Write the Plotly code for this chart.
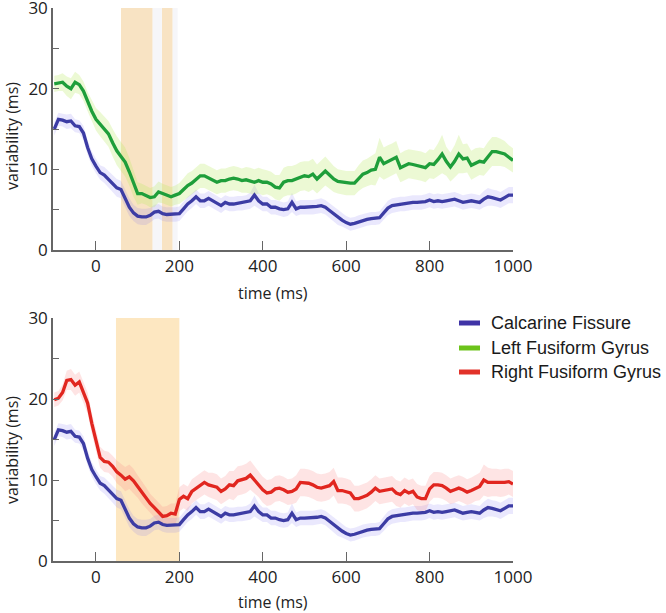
import plotly.graph_objects as go

# ---- data ----
time_ms = list(range(-100, 1001, 10))

calcarine = [15.0, 16.2, 16.1, 15.9, 16.0, 15.4, 15.3, 14.5, 12.7, 11.3,
             10.4, 9.6, 9.3, 8.8, 8.2, 7.7, 7.5, 6.4, 5.3, 4.6,
             4.2, 4.1, 4.1, 4.3, 4.7, 4.8, 4.5, 4.4, 4.4, 4.4,
             4.5, 5.1, 5.7, 6.1, 6.6, 6.1, 6.1, 6.4, 6.1, 5.7,
             5.5, 5.9, 5.7, 5.7, 5.8, 5.8, 5.9, 6.1, 6.8, 6.1,
             5.7, 5.7, 5.3, 5.3, 5.1, 5.0, 5.1, 5.9, 5.1, 5.3,
             5.3, 5.3, 5.3, 5.4, 5.5, 5.3, 4.9, 4.5, 4.0, 3.7,
             3.4, 3.2, 3.3, 3.5, 3.7, 3.8, 3.9, 3.9, 4.0, 4.6,
             5.2, 5.5, 5.6, 5.7, 5.7, 5.8, 5.9, 5.9, 5.9, 6.0,
             6.2, 6.0, 6.1, 6.0, 6.1, 6.2, 6.3, 6.1, 5.9, 6.0,
             6.1, 6.0, 5.9, 6.3, 6.6, 6.5, 6.4, 6.2, 6.5, 6.8, 6.8]
calcarine_err = [0.8, 0.8, 0.8, 0.9, 0.9, 0.8, 0.8, 0.9, 0.9, 0.9,
                 0.9, 0.9, 1.0, 1.0, 1.0, 1.1, 1.1, 1.1, 1.1, 1.0,
                 1.0, 1.0, 1.0, 0.9, 0.9, 0.9, 0.9, 0.9, 0.9, 0.9,
                 0.9, 0.9, 0.9, 0.9, 0.9, 0.9, 0.9, 0.9, 0.9, 0.9,
                 0.9, 0.9, 0.9, 0.9, 0.9, 0.9, 0.9, 1.0, 1.3, 1.0,
                 0.9, 0.9, 0.9, 0.9, 0.9, 0.9, 0.9, 1.2, 0.9, 0.9,
                 0.9, 0.9, 0.9, 0.9, 0.9, 0.9, 0.9, 0.9, 0.9, 0.8,
                 0.8, 0.8, 0.8, 0.8, 0.8, 0.8, 0.8, 0.8, 0.8, 0.9,
                 0.9, 0.9, 0.9, 0.9, 0.9, 0.9, 0.9, 0.9, 0.9, 0.9,
                 0.9, 0.9, 0.9, 0.9, 0.9, 0.9, 0.9, 0.9, 0.9, 0.9,
                 0.9, 0.9, 0.9, 1.0, 1.1, 1.0, 1.0, 1.0, 1.0, 1.0, 1.0]

left_fg = [20.6, 20.7, 20.8, 20.3, 20.0, 20.8, 20.5, 19.7, 18.4, 17.2,
           16.2, 15.6, 15.0, 14.4, 13.3, 12.3, 11.6, 10.9, 9.7, 8.2,
           7.0, 7.0, 6.8, 6.5, 6.6, 7.2, 7.0, 6.8, 6.6, 6.8,
           7.0, 7.5, 8.0, 8.3, 8.7, 9.2, 9.2, 8.9, 8.6, 8.4,
           8.6, 8.6, 8.8, 8.9, 8.8, 8.6, 8.7, 8.6, 8.4, 8.6,
           8.4, 8.4, 8.2, 7.8, 7.7, 8.4, 8.6, 8.6, 8.8, 9.1,
           9.2, 9.1, 9.4, 8.8, 9.3, 9.8, 9.3, 8.8, 8.5, 8.4,
           8.3, 8.3, 8.3, 8.9, 9.4, 9.6, 9.9, 10.0, 11.5, 10.7,
           11.0, 11.2, 11.5, 10.2, 10.5, 10.7, 10.6, 10.5, 10.4, 10.2,
           10.7, 10.6, 11.2, 11.9, 11.0, 10.3, 11.0, 11.9, 11.3, 11.4,
           10.5, 10.8, 11.0, 10.9, 11.6, 12.2, 12.2, 12.1, 11.9, 11.5, 11.1]
left_fg_err = [1.0, 1.0, 1.1, 1.2, 1.3, 1.3, 1.2, 1.2, 1.2, 1.3,
               1.4, 1.5, 1.5, 1.6, 1.7, 1.8, 1.8, 1.8, 1.7, 1.6,
               1.4, 1.2, 1.2, 1.2, 1.3, 1.3, 1.2, 1.2, 1.2, 1.2,
               1.3, 1.4, 1.5, 1.5, 1.5, 1.5, 1.5, 1.5, 1.5, 1.5,
               1.5, 1.5, 1.5, 1.5, 1.5, 1.5, 1.6, 1.6, 1.6, 1.6,
               1.6, 1.5, 1.5, 1.5, 1.6, 1.8, 1.8, 1.8, 1.8, 1.8,
               1.8, 1.9, 1.9, 1.8, 1.8, 1.8, 1.7, 1.6, 1.5, 1.5,
               1.5, 1.5, 1.5, 1.6, 1.7, 1.7, 1.8, 2.0, 2.4, 2.0,
               2.0, 2.0, 2.0, 1.8, 1.8, 1.8, 1.8, 1.8, 1.8, 1.8,
               1.8, 1.8, 2.0, 2.4, 1.8, 1.8, 2.0, 2.4, 1.8, 1.8,
               1.8, 1.8, 1.7, 1.7, 1.8, 1.8, 1.8, 1.7, 1.6, 1.5, 1.5]

right_fg = [19.9, 20.1, 20.8, 22.3, 22.4, 21.7, 22.1, 20.8, 19.5, 17.0,
            15.0, 12.8, 12.3, 12.2, 11.7, 11.0, 10.6, 10.1, 10.4, 9.9,
            9.2, 8.5, 7.8, 7.1, 6.6, 6.0, 5.5, 5.6, 5.9, 5.8,
            7.6, 8.0, 7.7, 8.6, 9.0, 9.4, 9.7, 9.4, 9.3, 9.1,
            8.6, 8.9, 9.4, 9.3, 9.9, 10.0, 10.2, 10.6, 10.0, 9.5,
            8.8, 8.4, 8.5, 8.9, 9.0, 8.8, 8.5, 8.6, 8.9, 9.7,
            9.7, 9.6, 9.4, 9.1, 9.0, 9.1, 9.3, 9.8, 8.7, 8.7,
            8.6, 8.4, 7.7, 7.7, 7.9, 8.1, 8.5, 9.0, 8.6, 8.7,
            8.8, 8.9, 8.4, 8.2, 8.7, 8.4, 8.6, 7.9, 7.7, 7.7,
            8.9, 9.4, 9.4, 9.3, 9.0, 8.6, 8.8, 9.0, 8.8, 8.5,
            8.7, 9.0, 9.2, 10.0, 9.7, 9.7, 9.7, 9.6, 9.7, 9.8, 9.5]
right_fg_err = [0.9, 0.9, 1.0, 1.2, 1.3, 1.3, 1.3, 1.3, 1.3, 1.3,
                1.3, 1.3, 1.3, 1.3, 1.3, 1.4, 1.4, 1.5, 1.5, 1.5,
                1.4, 1.4, 1.3, 1.2, 1.2, 1.2, 1.2, 1.2, 1.2, 1.3,
                1.5, 1.5, 1.5, 1.5, 1.5, 1.5, 1.5, 1.5, 1.6, 1.6,
                1.6, 1.6, 1.7, 1.8, 1.8, 1.8, 1.8, 1.8, 1.7, 1.6,
                1.6, 1.6, 1.6, 1.6, 1.6, 1.6, 1.6, 1.6, 1.7, 1.7,
                1.7, 1.7, 1.7, 1.7, 1.7, 1.7, 1.7, 1.7, 1.6, 1.6,
                1.6, 1.6, 1.6, 1.6, 1.6, 1.6, 1.6, 1.6, 1.6, 1.6,
                1.6, 1.6, 1.6, 1.6, 1.6, 1.6, 1.6, 1.6, 1.6, 1.6,
                1.6, 1.6, 1.6, 1.6, 1.6, 1.6, 1.6, 1.6, 1.6, 1.6,
                1.6, 1.6, 1.7, 1.9, 1.8, 1.7, 1.7, 1.7, 1.7, 1.6, 1.6]

# significance windows (ms)
top_windows = [(60, 136), (158, 184)]
top_faint_windows = [(136, 158), (184, 196)]
bottom_windows = [(48, 200)]

legend_labels = ["Calcarine Fissure", "Left Fusiform Gyrus", "Right Fusiform Gyrus"]
x_tick_vals = [0, 200, 400, 600, 800, 1000]
y_tick_vals = [0, 10, 20, 30]

# ---- styling ----
W, H = 666, 613
BLUE, GREEN, RED = "#3c3ca4", "#1e9e3a", "#e1261f"
BLUE_F, GREEN_F, RED_F = "rgba(125,115,240,0.16)", "rgba(185,235,100,0.28)", "rgba(250,130,130,0.22)"
LEG_COLORS = ["#3f33a6", "#6cc31a", "#e2322a"]
AX = "#666666"
FONT = "Open Sans"


def px_x(p):
    return p / W


def px_y(p):
    return 1 - p / H


fig = go.Figure()


def add_series(y, err, color, fill, xa, ya):
    up = [a + b for a, b in zip(y, err)]
    lo = [a - b for a, b in zip(y, err)]
    fig.add_trace(go.Scatter(x=time_ms, y=up, mode="lines", line=dict(width=0),
                             xaxis=xa, yaxis=ya, showlegend=False, hoverinfo="skip"))
    fig.add_trace(go.Scatter(x=time_ms, y=lo, mode="lines", line=dict(width=0), fill="tonexty",
                             fillcolor=fill, xaxis=xa, yaxis=ya, showlegend=False, hoverinfo="skip"))


# top panel
add_series(calcarine, calcarine_err, BLUE, BLUE_F, "x", "y")
add_series(left_fg, left_fg_err, GREEN, GREEN_F, "x", "y")
fig.add_trace(go.Scatter(x=time_ms, y=calcarine, mode="lines", line=dict(color=BLUE, width=3.3),
                         xaxis="x", yaxis="y", showlegend=False))
fig.add_trace(go.Scatter(x=time_ms, y=left_fg, mode="lines", line=dict(color=GREEN, width=3.3),
                         xaxis="x", yaxis="y", showlegend=False))
# bottom panel
add_series(calcarine, calcarine_err, BLUE, BLUE_F, "x2", "y2")
add_series(right_fg, right_fg_err, RED, RED_F, "x2", "y2")
fig.add_trace(go.Scatter(x=time_ms, y=calcarine, mode="lines", line=dict(color=BLUE, width=3.3),
                         xaxis="x2", yaxis="y2", showlegend=False))
fig.add_trace(go.Scatter(x=time_ms, y=right_fg, mode="lines", line=dict(color=RED, width=3.3),
                         xaxis="x2", yaxis="y2", showlegend=False))

shapes = []
for a, b in top_windows:
    shapes.append(dict(type="rect", xref="x", yref="y", x0=a, x1=b, y0=0, y1=30,
                       fillcolor="#f8e3c3", line=dict(width=0), layer="below"))
for a, b in top_faint_windows:
    shapes.append(dict(type="rect", xref="x", yref="y", x0=a, x1=b, y0=0, y1=30,
                       fillcolor="#f6f6f9", line=dict(width=0), layer="below"))
for a, b in bottom_windows:
    shapes.append(dict(type="rect", xref="x2", yref="y2", x0=a, x1=b, y0=0, y1=30,
                       fillcolor="#fde7c1", line=dict(width=0), layer="below"))

annotations = []
# legend (drawn manually)
leg_rows = [323, 348, 372]
for lab, col, ry in zip(legend_labels, LEG_COLORS, leg_rows):
    shapes.append(dict(type="line", xref="paper", yref="paper", x0=px_x(459), x1=px_x(480),
                       y0=px_y(ry), y1=px_y(ry), line=dict(color=col, width=5)))
    annotations.append(dict(text=lab, xref="paper", yref="paper", x=px_x(489), y=px_y(ry),
                            xanchor="left", yanchor="middle", showarrow=False,
                            font=dict(family="Liberation Sans", size=18, color="#1a1a1a")))

for cy in [136, 450]:
    annotations.append(dict(text="variability (ms)", xref="paper", yref="paper", x=px_x(12), y=px_y(cy),
                            xanchor="center", yanchor="middle", textangle=-90, showarrow=False,
                            font=dict(family=FONT, size=16, color="#222")))
for cy in [293, 602]:
    annotations.append(dict(text="time (ms)", xref="paper", yref="paper", x=px_x(273), y=px_y(cy),
                            xanchor="center", yanchor="middle", showarrow=False,
                            font=dict(family=FONT, size=16, color="#222")))

xdom = [px_x(53), px_x(513)]
xcommon = dict(range=[-103, 1000], domain=xdom, showline=True, linecolor=AX, linewidth=1.5,
               ticks="inside", ticklen=9, tickcolor=AX, tickwidth=1.2, tickvals=x_tick_vals,
               showgrid=False, zeroline=False, tickfont=dict(family=FONT, size=17, color="#222"),
               automargin=False, ticklabeloverflow="allow")
ycommon = dict(range=[0, 30], showline=True, linecolor=AX, linewidth=1.5,
               ticks="inside", ticklen=6, tickcolor=AX, tickwidth=1.2, tickvals=y_tick_vals,
               minor=dict(dtick=5, ticks="inside", ticklen=6, tickcolor=AX, tickwidth=1.2, showgrid=False),
               showgrid=False, zeroline=False, tickfont=dict(family=FONT, size=17, color="#222"),
               automargin=False, ticklabeloverflow="allow")

fig.update_layout(
    width=W, height=H,
    margin=dict(l=0, r=0, t=0, b=0),
    paper_bgcolor="white", plot_bgcolor="rgba(0,0,0,0)",
    showlegend=False,
    xaxis=dict(xcommon, anchor="y"),
    yaxis=dict(ycommon, domain=[px_y(250), px_y(8)], anchor="x"),
    xaxis2=dict(xcommon, anchor="y2"),
    yaxis2=dict(ycommon, domain=[px_y(561), px_y(318)], anchor="x2"),
    shapes=shapes,
    annotations=annotations,
)

fig.write_html("out.html", config={"displayModeBar": False},
               post_script="document.body.style.margin='0px';document.body.style.overflow='hidden';")
